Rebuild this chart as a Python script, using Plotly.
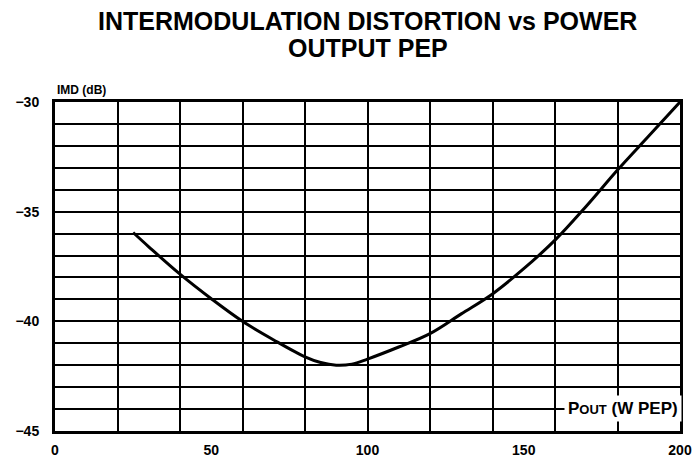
import plotly.graph_objects as go

# Data
pout_w = [25, 30, 40, 50, 60, 70, 80, 85, 90, 95, 100, 110, 120, 130, 140, 150, 160, 170, 180, 190, 200]
imd_db = [-35.95, -36.6, -37.85, -38.97, -40.0, -40.85, -41.62, -41.88, -42.0, -41.95, -41.72,
          -41.17, -40.56, -39.66, -38.75, -37.6, -36.3, -34.75, -33.1, -31.55, -30.0]

x_tickvals = [0, 50, 100, 150, 200]
x_ticktext = ["0", "50", "100", "150", "200"]
y_tickvals = [-30, -35, -40, -45]
y_ticktext = ["\u221230", "\u221235", "\u221240", "\u221245"]

title_line1 = "INTERMODULATION DISTORTION vs POWER"
title_line2 = "OUTPUT PEP"
y_label = "IMD (dB)"
x_label = "P<span style='font-size:13px'>OUT</span> (W PEP)"

FAM = "Liberation Sans, Arial, sans-serif"
tick_font = dict(family=FAM, size=14, color="black", weight="bold")

fig = go.Figure()
fig.add_trace(go.Scatter(x=pout_w, y=imd_db, mode="lines",
                         line=dict(color="black", width=3, shape="spline", smoothing=1.0),
                         showlegend=False, hoverinfo="skip"))

fig.update_layout(
    width=697, height=466,
    margin=dict(l=55, r=17, t=102, b=35, autoexpand=False),
    paper_bgcolor="white", plot_bgcolor="white",
    xaxis=dict(range=[0, 200], tickvals=x_tickvals, ticktext=x_ticktext, showgrid=False,
               automargin=False,
               zeroline=False, showline=True, linecolor="black", linewidth=3, mirror=True,
               ticks="", ticklabelstandoff=4, tickfont=tick_font,
               minor=dict(tick0=0, dtick=20, showgrid=True, gridcolor="black", gridwidth=2)),
    yaxis=dict(range=[-45, -30], tickvals=y_tickvals, ticktext=y_ticktext, showgrid=True,
               automargin=False,
               gridcolor="black", gridwidth=2,
               zeroline=False, showline=True, linecolor="black", linewidth=3, mirror=True,
               ticks="", ticklabelstandoff=10, tickfont=tick_font,
               minor=dict(tick0=-45, dtick=1, showgrid=True, gridcolor="black", gridwidth=2)),
)

title_font = dict(family=FAM, size=25, color="black", weight="bold")
fig.add_annotation(text=title_line1, xref="paper", yref="paper", x=0.5, y=1.0,
                   xanchor="center", yanchor="middle", yshift=81, showarrow=False,
                   font=title_font)
fig.add_annotation(text=title_line2, xref="paper", yref="paper", x=0.5, y=1.0,
                   xanchor="center", yanchor="middle", yshift=54, showarrow=False,
                   font=title_font)

fig.add_annotation(text=y_label, xref="paper", yref="paper", x=0.0, y=1.0,
                   xanchor="left", yanchor="middle", yshift=12, showarrow=False,
                   font=dict(family=FAM, size=12, color="black", weight="bold"))

fig.add_annotation(text=x_label, xref="x", yref="y", x=200, y=-44.0,
                   xanchor="right", yanchor="middle", xshift=2, yshift=1, showarrow=False,
                   bgcolor="white", borderpad=3,
                   font=dict(family=FAM, size=17, color="black", weight="bold"))

fig.write_html("out.html", config={"displayModeBar": False},
               post_script="document.body.style.margin='0px';")
